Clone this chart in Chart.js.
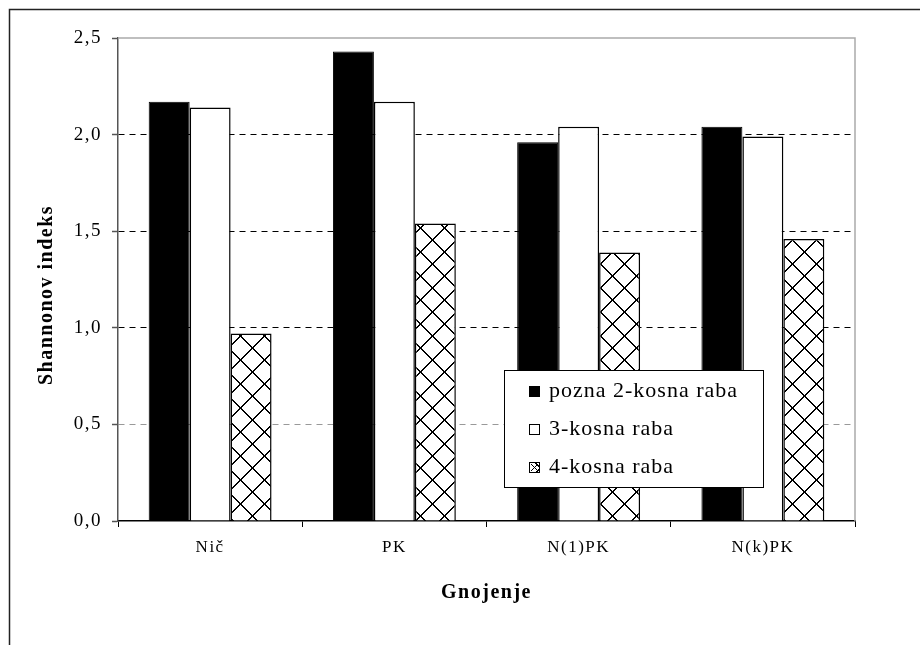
<!DOCTYPE html>
<html>
<head>
<meta charset="utf-8">
<script src="https://cdn.jsdelivr.net/npm/chart.js@4.4.0/dist/chart.umd.min.js"></script>
<style>
  html, body { margin: 0; padding: 0; background: #fff; }
  canvas { display: block; }
</style>
</head>
<body>
<canvas id="c" width="920" height="645"></canvas>
<script>
// Shannon diversity index by fertilisation treatment and cutting regime
const categories = ['Nič', 'PK', 'N(1)PK', 'N(k)PK'];
const seriesNames = ['pozna 2-kosna raba', '3-kosna raba', '4-kosna raba'];
const pozna2kosna = [2.17, 2.43, 1.96, 2.04];
const kosna3 = [2.14, 2.17, 2.04, 1.99];
const kosna4 = [0.97, 1.54, 1.39, 1.46];
const yTicks = [0, 0.5, 1.0, 1.5, 2.0, 2.5];
const yTitle = 'Shannonov indeks';
const xTitle = 'Gnojenje';

const SERIF = "'Liberation Serif', 'Times New Roman', serif";

// diagonal lattice fill for the third series
function makeLattice(size) {
  const c = document.createElement('canvas');
  c.width = size; c.height = size;
  const g = c.getContext('2d');
  g.fillStyle = '#fff';
  g.fillRect(0, 0, size, size);
  g.fillStyle = '#000';
  const dot = (x, y) => g.fillRect(((x % size) + size) % size, ((y % size) + size) % size, 1, 1);
  for (let i = 0; i < size; i++) {
    dot(i, i); dot(i + 1, i);
    dot(size - 1 - i, i); dot(size - i, i);
  }
  return g.createPattern(c, 'repeat');
}
const lattice = makeLattice(24);

// outer frame of the figure
const outerFrame = {
  id: 'outerFrame',
  beforeDraw(chart) {
    const ctx = chart.ctx;
    ctx.letterSpacing = '1.5px';
    ctx.save();
    ctx.strokeStyle = '#222';
    ctx.lineWidth = 1.5;
    ctx.beginPath();
    ctx.moveTo(9.5, 645);
    ctx.lineTo(9.5, 9.5);
    ctx.lineTo(920, 9.5);
    ctx.stroke();
    ctx.restore();
  }
};

// grey top and right edges of the plot area, plus the vertical axis title
const plotFrame = {
  id: 'plotFrame',
  beforeDatasetsDraw(chart, args, o) {
    const { ctx, chartArea: a } = chart;
    ctx.save();
    ctx.strokeStyle = '#aaa';
    ctx.lineWidth = 1.5;
    ctx.beginPath();
    ctx.moveTo(a.left, a.top);
    ctx.lineTo(a.right, a.top);
    ctx.lineTo(a.right, a.bottom);
    ctx.stroke();

    ctx.translate(o.titleX, o.titleY);
    ctx.rotate(-Math.PI / 2);
    ctx.font = o.titleFont;
    ctx.fillStyle = '#000';
    ctx.textAlign = 'center';
    ctx.textBaseline = 'middle';
    ctx.fillText(yTitle, 0, 0);
    ctx.restore();
  }
};

// boxed legend placed inside the plot
const boxLegend = {
  id: 'boxLegend',
  afterDatasetsDraw(chart, args, o) {
    const ctx = chart.ctx;
    ctx.save();
    ctx.fillStyle = '#fff';
    ctx.fillRect(o.left, o.top, o.width, o.height);
    ctx.strokeStyle = '#000';
    ctx.lineWidth = 1;
    ctx.strokeRect(o.left + 0.5, o.top + 0.5, o.width, o.height);
    ctx.font = o.font;
    ctx.letterSpacing = o.spacing;
    ctx.textBaseline = 'middle';
    ctx.textAlign = 'left';
    chart.data.datasets.forEach((ds, i) => {
      const cy = o.top + o.firstRow + i * o.rowGap;
      const mx = o.left + o.markerX;
      ctx.fillStyle = ds.backgroundColor;
      ctx.fillRect(mx, cy - 5, 11, 11);
      ctx.strokeStyle = '#000';
      ctx.strokeRect(mx + 0.5, cy - 4.5, 10, 10);
      if (i === 2) {
        ctx.beginPath();
        ctx.moveTo(mx + 2, cy - 3); ctx.lineTo(mx + 9, cy + 4);
        ctx.moveTo(mx + 9, cy - 3); ctx.lineTo(mx + 2, cy + 4);
        ctx.stroke();
      }
      ctx.fillStyle = '#000';
      ctx.fillText(ds.label, o.left + o.textX, cy);
    });
    ctx.restore();
  }
};

new Chart(document.getElementById('c'), {
  type: 'bar',
  data: {
    labels: categories,
    datasets: [
      { label: seriesNames[0], data: pozna2kosna, backgroundColor: '#000', borderColor: '#000', borderWidth: 1 },
      { label: seriesNames[1], data: kosna3, backgroundColor: '#fff', borderColor: '#000', borderWidth: 1.5 },
      { label: seriesNames[2], data: kosna4, backgroundColor: lattice, borderColor: '#000', borderWidth: 1.5 }
    ]
  },
  options: {
    responsive: false,
    animation: false,
    devicePixelRatio: 1,
    layout: { padding: { top: 38, right: 65, left: 0, bottom: 0 } },
    datasets: { bar: { categoryPercentage: 0.667, barPercentage: 1.0, borderSkipped: 'bottom' } },
    plugins: {
      legend: { display: false },
      tooltip: { enabled: false },
      plotFrame: { titleX: 47, titleY: 295, titleFont: "bold 20px " + SERIF },
      boxLegend: {
        left: 504, top: 370, width: 259, height: 117,
        firstRow: 21, rowGap: 38, markerX: 25, textX: 45,
        font: "22px " + SERIF, spacing: '1px'
      }
    },
    scales: {
      x: {
        grid: {
          offset: true, drawOnChartArea: false, drawTicks: true,
          tickLength: 6, tickColor: '#000', tickWidth: 1
        },
        border: { display: true, color: '#000', width: 1.5 },
        ticks: { color: '#000', font: { family: SERIF, size: 17 }, padding: 10 },
        title: {
          display: true, text: xTitle, color: '#000',
          font: { family: SERIF, size: 20, weight: 'bold' },
          padding: { top: 0, bottom: 40 }
        },
        afterFit(s) { s.height = 645 - 521; }
      },
      y: {
        min: 0, max: 2.5,
        afterBuildTicks(s) { s.ticks = yTicks.map(v => ({ value: v })); },
        grid: {
          color: c => (c.tick && (c.tick.value === 0 || c.tick.value === 2.5)) ? 'rgba(0,0,0,0)'
                 : (c.tick && c.tick.value === 0.5 ? '#999' : '#000'),
          lineWidth: 1,
          drawTicks: true, tickLength: 6, tickColor: '#555', tickWidth: 1.5, tickBorderDash: []
        },
        border: { display: true, color: '#555', width: 1.5, dash: [6, 5] },
        ticks: {
          color: '#000', font: { family: SERIF, size: 19 }, padding: 10,
          callback: v => Number(v).toFixed(1).replace('.', ',')
        },
        afterFit(s) { s.width = 118; }
      }
    }
  },
  plugins: [outerFrame, plotFrame, boxLegend]
});
</script>
</body>
</html>
